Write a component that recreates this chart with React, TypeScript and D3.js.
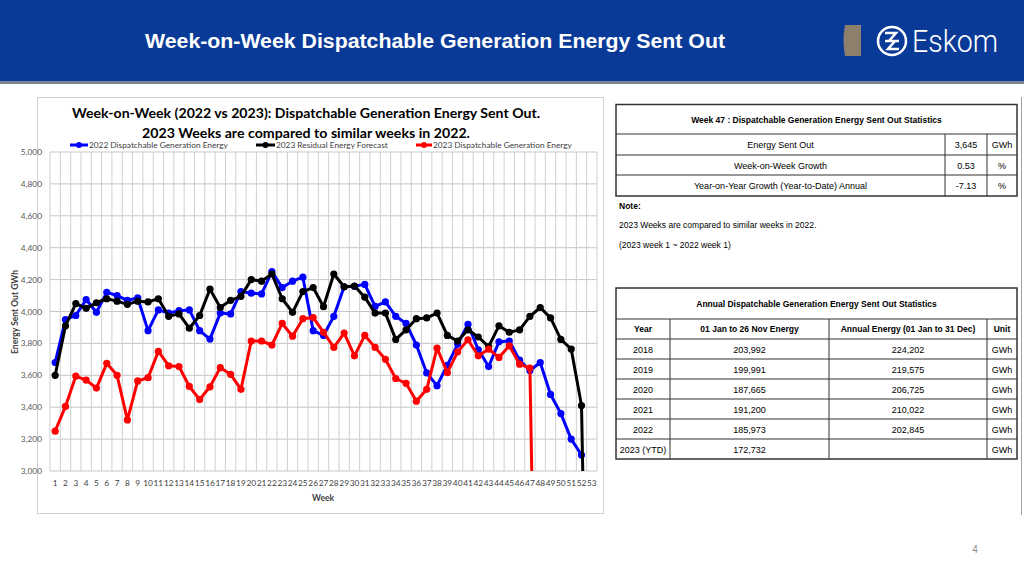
import React from "react";
import * as d3 from "d3";

const weeks: string[] = Array.from({ length: 53 }, (_, i) => String(i + 1));

const energy2022: number[] = [
  3680, 3950, 3975, 4075, 3995, 4120, 4100, 4070, 4085, 3880,
  4010, 3990, 4005, 4010, 3880, 3827, 3990, 3985, 4125, 4115,
  4110, 4250, 4150, 4190, 4215, 3880, 3850, 3970, 4155, 4158,
  4170, 4032, 4060, 3970, 3925, 3790, 3615, 3535, 3663, 3796,
  3920, 3760, 3655, 3810, 3815, 3695, 3630, 3680, 3480, 3360,
  3200, 3100,
];

const residual2023: number[] = [
  3600, 3910, 4050, 4020, 4055, 4080, 4065, 4045, 4065, 4060,
  4080, 3970, 3985, 3895, 3975, 4140, 4025, 4070, 4095, 4200,
  4190, 4235, 4080, 3995, 4125, 4150, 4030, 4235, 4155, 4160,
  4090, 3990, 3990, 3825, 3885, 3955, 3960, 3990, 3850, 3815,
  3885, 3840, 3780, 3910, 3870, 3885, 3970, 4025, 3960, 3825,
  3765, 3410, 0,
];

const energy2023: number[] = [
  3250, 3405, 3595, 3570, 3520, 3675, 3600, 3320, 3565, 3585,
  3750, 3660, 3655, 3530, 3448, 3528, 3648, 3606, 3512, 3815,
  3815, 3790, 3925, 3845, 3955, 3962, 3870, 3775, 3865, 3722,
  3850, 3775, 3700, 3580, 3550, 3438, 3512, 3770, 3617, 3747,
  3823, 3722, 3764, 3712, 3785, 3670, 3645, 0,
];

const yTicks: number[] = [3000, 3200, 3400, 3600, 3800, 4000, 4200, 4400, 4600, 4800, 5000];

const seriesNames: string[] = [
  "2022 Dispatchable Generation Energy",
  "2023 Residual Energy Forecast",
  "2023 Dispatchable Generation Energy",
];
const seriesColors: string[] = ["#0000ff", "#000000", "#ff0000"];

const weekStatsLabels: string[] = ["Energy Sent Out", "Week-on-Week Growth", "Year-on-Year Growth (Year-to-Date) Annual"];
const weekStatsValues: string[] = ["3,645", "0.53", "-7.13"];
const weekStatsUnits: string[] = ["GWh", "%", "%"];

const annualYears: string[] = ["2018", "2019", "2020", "2021", "2022", "2023 (YTD)"];
const annualToDate: string[] = ["203,992", "199,991", "187,665", "191,200", "185,973", "172,732"];
const annualFull: string[] = ["224,202", "219,575", "206,725", "210,022", "202,845", ""];

const PL = 50, PR = 597, PT = 152, PB = 471;

export default function App() {
  const x = d3.scaleBand<string>().domain(weeks).range([PL, PR]);
  const bw = x.bandwidth();
  const cx = (i: number) => (x(weeks[i]) as number) + bw / 2;
  const y = d3.scaleLinear().domain([3000, 5000]).range([PB, PT]);
  const line = d3.line<number>().x((_, i) => cx(i)).y((d) => y(d));
  const data = [energy2022, residual2023, energy2023];
  const sans = "'Liberation Sans', Arial, sans-serif";
  const cal = "Lato, 'Open Sans', sans-serif";

  const t1L = 616, t1R = 1017, t1C1 = 945, t1C2 = 987;
  const t1Rows = [134, 155, 175, 196];
  const t2Cols = [616, 670, 829, 987, 1017];
  const t2Top = 288, t2Head = 319;
  const rowH = 20;

  return (
    <div>
      <style>{"body{margin:0;background:#fff}"}</style>
      <svg width={1024} height={576} style={{ display: "block" }}>
        <rect x={0} y={0} width={1024} height={576} fill="#fff" />
        {/* header */}
        <rect x={0} y={0} width={1024} height={81} fill="#0a3a98" />
        <rect x={0} y={81} width={1024} height={3} fill="#7d8593" />
        <text x={435} y={48} textAnchor="middle" fill="#fff" fontFamily={sans} fontWeight="bold" fontSize={20} textLength={580} lengthAdjust="spacingAndGlyphs">
          Week-on-Week Dispatchable Generation Energy Sent Out
        </text>
        <path d="M845,25 L861,25 L861,56 L845,56 Q842,40 845,25 Z" fill="#8c7f6b" />
        <circle cx={892} cy={41} r={14} fill="none" stroke="#fff" strokeWidth={2.5} />
        <path d="M885,33 L896,33 L889,41 L899,41 M899,49 L888,49 L895,41 L885,41" fill="none" stroke="#fff" strokeWidth={2.5} />
        <text x={912} y={52} fill="#fff" fontFamily="Roboto, sans-serif" fontWeight={300} fontSize={31} textLength={86} lengthAdjust="spacingAndGlyphs">Eskom</text>

        {/* chart frame */}
        <rect x={37.5} y={97.5} width={566} height={416} fill="#fff" stroke="#d0d0d0" strokeWidth={1} />
        <text x={306} y={118} textAnchor="middle" fontFamily={cal} fontWeight="bold" fontSize={14} fill="#000" textLength={468} lengthAdjust="spacingAndGlyphs">
          Week-on-Week (2022 vs 2023): Dispatchable Generation Energy Sent Out.
        </text>
        <text x={306} y={138} textAnchor="middle" fontFamily={cal} fontWeight="bold" fontSize={14} fill="#000" textLength={328} lengthAdjust="spacingAndGlyphs">
          2023 Weeks are compared to similar  weeks in 2022.
        </text>
        {/* legend */}
        {[{ lx: 70, tx: 89 }, { lx: 256, tx: 276 }, { lx: 416, tx: 433 }].map((p, i) => (
          <g key={i}>
            <line x1={p.lx} x2={p.tx - 1} y1={145} y2={145} stroke={seriesColors[i]} strokeWidth={3} />
            <circle cx={(p.lx + p.tx - 1) / 2} cy={145} r={3} fill={seriesColors[i]} />
            <text x={p.tx} y={148} fontFamily={cal} fontSize={8.3} fill="#404040">{seriesNames[i]}</text>
          </g>
        ))}

        {/* gridlines */}
        {yTicks.map((t) => (
          <line key={"h" + t} x1={PL} x2={PR} y1={y(t)} y2={y(t)} stroke="#c6c6c6" strokeWidth={1} />
        ))}
        {weeks.map((w) => (
          <line key={"v" + w} x1={x(w) as number} x2={x(w) as number} y1={PT} y2={PB} stroke="#cfcfcf" strokeWidth={1} />
        ))}
        <line x1={PR} x2={PR} y1={PT} y2={PB} stroke="#cfcfcf" />
        {yTicks.map((t) => (
          <text key={"yl" + t} x={42} y={y(t) + 3} textAnchor="end" fontFamily={cal} fontSize={8.3} fill="#595959">{d3.format(",")(t)}</text>
        ))}
        {weeks.map((w, i) => (
          <text key={"xl" + w} x={cx(i)} y={486} textAnchor="middle" fontFamily={cal} fontSize={8.3} fill="#404040">{w}</text>
        ))}
        <text x={323} y={501} textAnchor="middle" fontFamily={cal} fontWeight="bold" fontSize={8.5} fill="#404040">Week</text>
        <text transform="translate(18,312) rotate(-90)" textAnchor="middle" fontFamily={cal} fontWeight="bold" fontSize={8.5} fill="#404040">Energy Sent Out GWh</text>

        <defs>
          <clipPath id="plotClip">
            <rect x={PL - 6} y={PT - 6} width={PR - PL + 12} height={PB - PT + 6} />
          </clipPath>
        </defs>
        <g clipPath="url(#plotClip)">
          {data.map((s, k) => (
            <g key={"s" + k}>
              <path d={line(s) || ""} fill="none" stroke={seriesColors[k]} strokeWidth={3} strokeLinejoin="round" />
              {s.map((v, i) => (v > 0 ? <circle key={i} cx={cx(i)} cy={y(v)} r={3.6} fill={seriesColors[k]} /> : null))}
            </g>
          ))}
        </g>

        {/* right panel line */}
        <line x1={1021.5} x2={1021.5} y1={97} y2={515} stroke="#a0a0a0" strokeWidth={1} />

        {/* table 1 */}
        <rect x={t1L} y={104.5} width={t1R - t1L} height={196 - 104.5} fill="#fff" stroke="#333" strokeWidth={1.5} />
        <text x={(t1L + t1R) / 2} y={123} textAnchor="middle" fontFamily={sans} fontWeight="bold" fontSize={8.5} fill="#000">
          Week 47 : Dispatchable Generation Energy Sent Out Statistics
        </text>
        {t1Rows.slice(0, 3).map((r) => (
          <line key={"t1r" + r} x1={t1L} x2={t1R} y1={r} y2={r} stroke="#333" strokeWidth={1} />
        ))}
        <line x1={t1C1} x2={t1C1} y1={134} y2={196} stroke="#333" />
        <line x1={t1C2} x2={t1C2} y1={134} y2={196} stroke="#333" />
        {weekStatsLabels.map((l, i) => {
          const yy = (t1Rows[i] + t1Rows[i + 1]) / 2 + 3.5;
          return (
            <g key={"t1" + i}>
              <text x={(t1L + t1C1) / 2} y={yy} textAnchor="middle" fontFamily={sans} fontSize={9} fill="#000">{l}</text>
              <text x={(t1C1 + t1C2) / 2} y={yy} textAnchor="middle" fontFamily={sans} fontSize={9} fill="#000">{weekStatsValues[i]}</text>
              <text x={(t1C2 + t1R) / 2} y={yy} textAnchor="middle" fontFamily={sans} fontSize={9} fill="#000">{weekStatsUnits[i]}</text>
            </g>
          );
        })}
        <text x={619} y={209} fontFamily={sans} fontWeight="bold" fontSize={8.5} fill="#000">Note:</text>
        <text x={619} y={228} fontFamily={sans} fontSize={8.5} fill="#000">2023 Weeks are compared to similar weeks in 2022.</text>
        <text x={619} y={248} fontFamily={sans} fontSize={8.5} fill="#000">(2023 week 1 ~ 2022 week 1)</text>

        {/* table 2 */}
        <rect x={t2Cols[0]} y={t2Top} width={t2Cols[4] - t2Cols[0]} height={t2Head + rowH * 7 - t2Top} fill="#fff" stroke="#333" strokeWidth={1.5} />
        <text x={(t2Cols[0] + t2Cols[4]) / 2} y={307} textAnchor="middle" fontFamily={sans} fontWeight="bold" fontSize={8.5} fill="#000">
          Annual Dispatchable Generation Energy Sent Out Statistics
        </text>
        {d3.range(7).map((r) => (
          <line key={"t2r" + r} x1={t2Cols[0]} x2={t2Cols[4]} y1={t2Head + r * rowH} y2={t2Head + r * rowH} stroke="#333" />
        ))}
        {t2Cols.slice(1, 4).map((c) => (
          <line key={"t2c" + c} x1={c} x2={c} y1={t2Head} y2={t2Head + rowH * 7} stroke="#333" />
        ))}
        {["Year", "01 Jan to 26 Nov Energy", "Annual Energy (01 Jan to 31 Dec)", "Unit"].map((h, j) => (
          <text key={"h" + j} x={(t2Cols[j] + t2Cols[j + 1]) / 2} y={t2Head + 13} textAnchor="middle" fontFamily={sans} fontWeight="bold" fontSize={8.5} fill="#000">{h}</text>
        ))}
        {annualYears.map((yr, i) => {
          const yy = t2Head + rowH * (i + 1) + 13.5;
          return (
            <g key={"a" + i}>
              <text x={(t2Cols[0] + t2Cols[1]) / 2} y={yy} textAnchor="middle" fontFamily={sans} fontSize={9} fill="#000">{yr}</text>
              <text x={(t2Cols[1] + t2Cols[2]) / 2} y={yy} textAnchor="middle" fontFamily={sans} fontSize={9} fill="#000">{annualToDate[i]}</text>
              <text x={(t2Cols[2] + t2Cols[3]) / 2} y={yy} textAnchor="middle" fontFamily={sans} fontSize={9} fill="#000">{annualFull[i]}</text>
              <text x={(t2Cols[3] + t2Cols[4]) / 2} y={yy} textAnchor="middle" fontFamily={sans} fontSize={9} fill="#000">GWh</text>
            </g>
          );
        })}

        <text x={975} y={553} textAnchor="middle" fontFamily={sans} fontSize={10} fill="#8c8c8c">4</text>
      </svg>
    </div>
  );
}
